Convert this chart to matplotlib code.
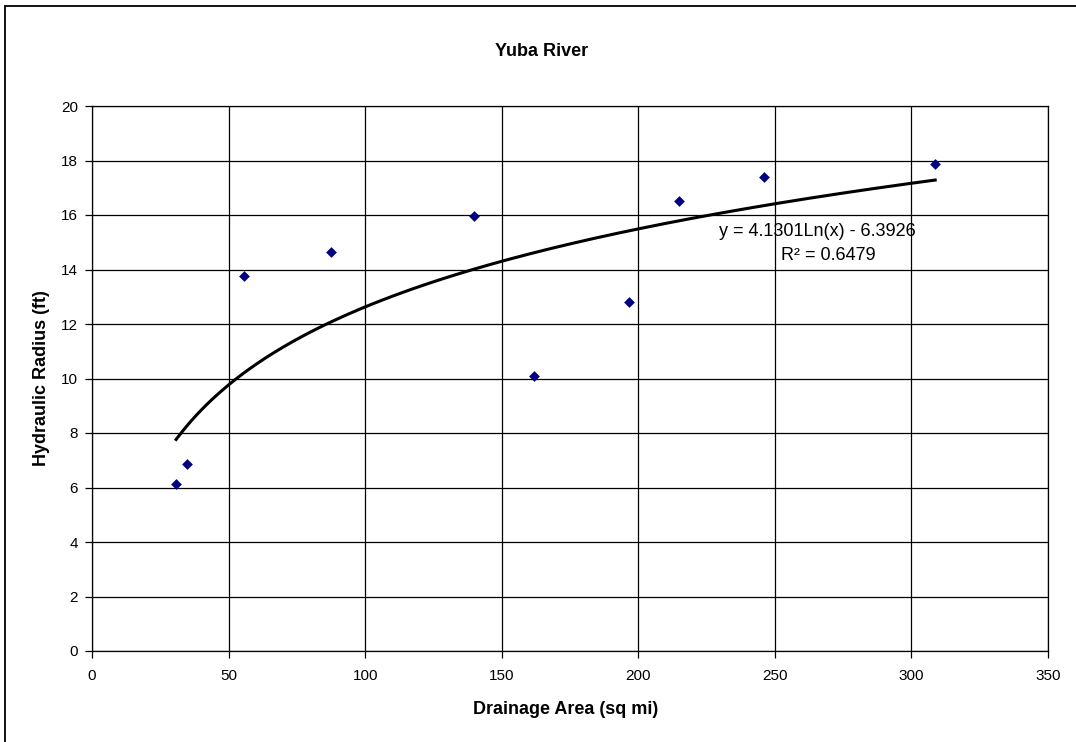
import numpy as np
import matplotlib
matplotlib.use("Agg")
import matplotlib.pyplot as plt
from matplotlib.patches import Rectangle

plt.rcParams['font.family'] = ['Liberation Sans', 'DejaVu Sans']

# Drainage area (sq mi) and hydraulic radius (ft)
area = [30.8, 34.8, 55.7, 87.5, 139.9, 161.8, 196.6, 214.9, 246.1, 308.7]
radius = [6.13, 6.86, 13.76, 14.64, 15.96, 10.09, 12.81, 16.51, 17.39, 17.87]

# Logarithmic trend fit
coef_a = 4.1301
coef_b = -6.3926
r_squared = 0.6479

fig = plt.figure(figsize=(10.76, 7.42), dpi=100)
ax = fig.add_axes([92/1076, 1-651/742, (1048-92)/1076, (651-106)/742])

# Outer chart border
fig.patches.append(Rectangle((5/1076, -0.05), 1.2, 1-6/742+0.05, transform=fig.transFigure,
                             fill=False, edgecolor='black', linewidth=1.3, zorder=0))

ax.set_xlim(0, 350)
ax.set_ylim(0, 20)
ax.set_xticks(np.arange(0, 351, 50))
ax.set_yticks(np.arange(0, 21, 2))
ax.grid(True, color='black', linewidth=0.9)
ax.set_axisbelow(True)
for s in ax.spines.values():
    s.set_color('black')
    s.set_linewidth(0.9)
ax.tick_params(direction='out', length=5, width=0.9, labelsize=11, colors='black')
ax.tick_params(axis='x', pad=8)
ax.tick_params(axis='y', pad=5)

xs = np.linspace(min(area), max(area), 300)
ax.plot(xs, coef_a*np.log(xs) + coef_b, color='black', linewidth=2.2, zorder=3)
ax.scatter(area, radius, marker='D', s=30, color='#000080', zorder=4, linewidths=0)

ax.text(265.5, 15.41, f"y = {coef_a:.4f}Ln(x) - {abs(coef_b):.4f}", ha='center', va='center',
        fontsize=13)
ax.text(269.5, 14.53, f"R² = {r_squared:.4f}", ha='center', va='center', fontsize=13)

ax.set_xlabel("Drainage Area (sq mi)", fontsize=13, fontweight='bold')
ax.xaxis.set_label_coords((566-92)/956, -(710-651)/545)
ax.xaxis.label.set_va('center')
ax.set_ylabel("Hydraulic Radius (ft)", fontsize=13, fontweight='bold')
ax.yaxis.set_label_coords((42-92)/956, 0.5)
ax.yaxis.label.set_va('center')
fig.text(542/1076, 1-52/742, "Yuba River", ha='center', va='center', fontsize=13, fontweight='bold')

fig.savefig("out.png", dpi=100)
